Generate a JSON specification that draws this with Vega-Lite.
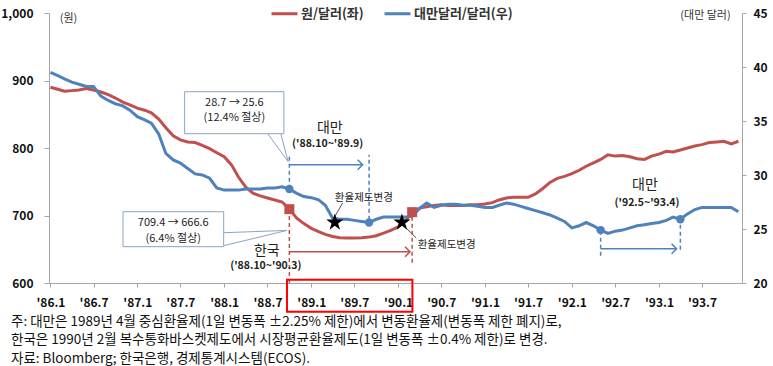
{
  "$schema": "https://vega.github.io/schema/vega-lite/v6.json",
  "width": 693,
  "height": 270,
  "autosize": {"type": "none"},
  "padding": {"left": 49, "top": 13, "right": 31, "bottom": 83},
  "background": "white",
  "config": {
    "view": {"stroke": null},
    "font": "Noto Sans CJK KR",
    "axis": {"grid": false, "labelFont": "Noto Sans CJK KR", "titleFont": "Noto Sans CJK KR"},
    "legend": {"labelFont": "Noto Sans CJK KR"}
  },
  "title": {
    "text": [
      "주: 대만은 1989년 4월 중심환율제(1일 변동폭 ±2.25% 제한)에서 변동환율제(변동폭 제한 폐지)로,",
      "　　한국은 1990년 2월 복수통화바스켓제도에서 시장평균환율제도(1일 변동폭 ±0.4% 제한)로 변경.",
      "자료: Bloomberg; 한국은행, 경제통계시스템(ECOS)."
    ],
    "orient": "bottom",
    "anchor": "start",
    "frame": "group",
    "dx": -38,
    "offset": 2,
    "fontSize": 13.5,
    "fontWeight": "normal",
    "color": "#111111",
    "font": "Noto Sans CJK KR",
    "lineHeight": 18.5,
    "baseline": "top"
  },
  "datasets": {
    "fx": [
      {"date": "1986-01-01", "won": 890, "twd": 39.5},
      {"date": "1986-02-01", "won": 887, "twd": 39.2},
      {"date": "1986-03-01", "won": 884, "twd": 38.9},
      {"date": "1986-04-01", "won": 885, "twd": 38.6},
      {"date": "1986-05-01", "won": 886, "twd": 38.4},
      {"date": "1986-06-01", "won": 888, "twd": 38.2},
      {"date": "1986-07-01", "won": 886, "twd": 38.2},
      {"date": "1986-08-01", "won": 883, "twd": 37.3},
      {"date": "1986-09-01", "won": 879, "twd": 36.9},
      {"date": "1986-10-01", "won": 874, "twd": 36.6},
      {"date": "1986-11-01", "won": 868, "twd": 36.4},
      {"date": "1986-12-01", "won": 864, "twd": 36.0},
      {"date": "1987-01-01", "won": 859, "twd": 35.4},
      {"date": "1987-02-01", "won": 856, "twd": 35.1},
      {"date": "1987-03-01", "won": 852, "twd": 34.8},
      {"date": "1987-04-01", "won": 843, "twd": 33.8},
      {"date": "1987-05-01", "won": 830, "twd": 32.0},
      {"date": "1987-06-01", "won": 818, "twd": 31.4},
      {"date": "1987-07-01", "won": 812, "twd": 31.1},
      {"date": "1987-08-01", "won": 809, "twd": 30.6},
      {"date": "1987-09-01", "won": 808, "twd": 30.1},
      {"date": "1987-10-01", "won": 804, "twd": 30.0},
      {"date": "1987-11-01", "won": 799, "twd": 29.7},
      {"date": "1987-12-01", "won": 793, "twd": 28.8},
      {"date": "1988-01-01", "won": 787, "twd": 28.6},
      {"date": "1988-02-01", "won": 775, "twd": 28.6},
      {"date": "1988-03-01", "won": 757, "twd": 28.6},
      {"date": "1988-04-01", "won": 742, "twd": 28.7},
      {"date": "1988-05-01", "won": 733, "twd": 28.7},
      {"date": "1988-06-01", "won": 729, "twd": 28.7},
      {"date": "1988-07-01", "won": 726, "twd": 28.8},
      {"date": "1988-08-01", "won": 723, "twd": 28.8},
      {"date": "1988-09-01", "won": 720, "twd": 28.9},
      {"date": "1988-10-01", "won": 709.4, "twd": 28.7},
      {"date": "1988-11-01", "won": 696, "twd": 28.3},
      {"date": "1988-12-01", "won": 688, "twd": 28.0},
      {"date": "1989-01-01", "won": 681, "twd": 27.9},
      {"date": "1989-02-01", "won": 676, "twd": 27.7},
      {"date": "1989-03-01", "won": 672, "twd": 27.2},
      {"date": "1989-04-01", "won": 669, "twd": 26.0},
      {"date": "1989-05-01", "won": 667, "twd": 25.9},
      {"date": "1989-06-01", "won": 666.6, "twd": 25.9},
      {"date": "1989-07-01", "won": 666.6, "twd": 25.8},
      {"date": "1989-08-01", "won": 667, "twd": 25.7},
      {"date": "1989-09-01", "won": 668, "twd": 25.6},
      {"date": "1989-10-01", "won": 670, "twd": 25.9},
      {"date": "1989-11-01", "won": 674, "twd": 26.1},
      {"date": "1989-12-01", "won": 678, "twd": 26.1},
      {"date": "1990-01-01", "won": 683, "twd": 26.1},
      {"date": "1990-02-01", "won": 692, "twd": 26.1},
      {"date": "1990-03-01", "won": 705, "twd": 26.2},
      {"date": "1990-04-01", "won": 711, "twd": 26.9},
      {"date": "1990-05-01", "won": 713, "twd": 27.4},
      {"date": "1990-06-01", "won": 715, "twd": 27.0},
      {"date": "1990-07-01", "won": 716, "twd": 27.2},
      {"date": "1990-08-01", "won": 715, "twd": 27.3},
      {"date": "1990-09-01", "won": 715, "twd": 27.3},
      {"date": "1990-10-01", "won": 715, "twd": 27.2},
      {"date": "1990-11-01", "won": 716, "twd": 27.2},
      {"date": "1990-12-01", "won": 716, "twd": 27.1},
      {"date": "1991-01-01", "won": 717, "twd": 27.0},
      {"date": "1991-02-01", "won": 719, "twd": 27.0},
      {"date": "1991-03-01", "won": 723, "twd": 27.2},
      {"date": "1991-04-01", "won": 726, "twd": 27.4},
      {"date": "1991-05-01", "won": 727, "twd": 27.3},
      {"date": "1991-06-01", "won": 727, "twd": 27.1},
      {"date": "1991-07-01", "won": 727, "twd": 26.9},
      {"date": "1991-08-01", "won": 732, "twd": 26.7},
      {"date": "1991-09-01", "won": 740, "twd": 26.5},
      {"date": "1991-10-01", "won": 749, "twd": 26.3},
      {"date": "1991-11-01", "won": 755, "twd": 26.0},
      {"date": "1991-12-01", "won": 758, "twd": 25.7},
      {"date": "1992-01-01", "won": 762, "twd": 25.1},
      {"date": "1992-02-01", "won": 767, "twd": 25.3},
      {"date": "1992-03-01", "won": 773, "twd": 25.6},
      {"date": "1992-04-01", "won": 778, "twd": 25.3},
      {"date": "1992-05-01", "won": 783, "twd": 24.9},
      {"date": "1992-06-01", "won": 790, "twd": 24.6},
      {"date": "1992-07-01", "won": 788, "twd": 24.8},
      {"date": "1992-08-01", "won": 789, "twd": 24.9},
      {"date": "1992-09-01", "won": 787, "twd": 25.1},
      {"date": "1992-10-01", "won": 784, "twd": 25.3},
      {"date": "1992-11-01", "won": 783, "twd": 25.4},
      {"date": "1992-12-01", "won": 788, "twd": 25.5},
      {"date": "1993-01-01", "won": 791, "twd": 25.6},
      {"date": "1993-02-01", "won": 795, "twd": 25.8},
      {"date": "1993-03-01", "won": 794, "twd": 26.1},
      {"date": "1993-04-01", "won": 797, "twd": 25.9},
      {"date": "1993-05-01", "won": 800, "twd": 26.4},
      {"date": "1993-06-01", "won": 803, "twd": 26.8},
      {"date": "1993-07-01", "won": 805, "twd": 27.0},
      {"date": "1993-08-01", "won": 808, "twd": 27.0},
      {"date": "1993-09-01", "won": 809, "twd": 27.0},
      {"date": "1993-10-01", "won": 810, "twd": 27.0},
      {"date": "1993-11-01", "won": 806, "twd": 27.0},
      {"date": "1993-12-01", "won": 810, "twd": 26.6}
    ],
    "blueDash": [
      {"date": "1988-10-01", "low": 739.7, "high": 790.1},
      {"date": "1989-09-01", "low": 693.8, "high": 790.1},
      {"date": "1992-05-01", "low": 640.4, "high": 679.0},
      {"date": "1993-04-01", "low": 649.2, "high": 690.7}
    ],
    "redDash": [
      {"date": "1988-10-01", "low": 600, "high": 709.4},
      {"date": "1990-03-01", "low": 630, "high": 705}
    ],
    "blueArrow": [
      {"start": "1988-10-01", "end": "1989-08-05", "level": 775.3},
      {"start": "1992-05-01", "end": "1993-03-16", "level": 650.8}
    ],
    "redArrow": [
      {"start": "1988-10-01", "end": "1990-02-20", "level": 646.2}
    ],
    "boxes": [
      {"start": "1987-07-19", "end": "1988-09-08", "low": 821.2, "high": 883.4},
      {"start": "1986-11-02", "end": "1987-12-30", "low": 653.8, "high": 705.6}
    ],
    "wedges": [
      {"start": "1988-07-02", "end": "1988-09-26", "from": 821.2, "to": 779.7},
      {"start": "1988-08-26", "end": "1988-09-26", "from": 821.2, "to": 779.7},
      {"start": "1987-12-30", "end": "1988-09-21", "from": 674.5, "to": 677.9},
      {"start": "1987-12-30", "end": "1988-09-21", "from": 655.3, "to": 677.9}
    ],
    "boxText": [
      {"date": "1988-02-13", "value": 866.4, "text": "28.7 → 25.6"},
      {"date": "1988-02-13", "value": 844.1, "text": "(12.4% 절상)"},
      {"date": "1987-06-01", "value": 688.6, "text": "709.4 → 666.6"},
      {"date": "1987-06-01", "value": 665.6, "text": "(6.4% 절상)"}
    ],
    "bigText": [
      {"date": "1988-06-28", "value": 647.5, "text": "한국"},
      {"date": "1989-03-20", "value": 829.5, "text": "대만"},
      {"date": "1992-11-03", "value": 745.5, "text": "대만"}
    ],
    "rangeText": [
      {"date": "1988-06-24", "value": 624.5, "text": "('88.10~'90.3)"},
      {"date": "1989-03-11", "value": 806.0, "text": "('88.10~'89.9)"},
      {"date": "1992-11-12", "value": 719.0, "text": "('92.5~'93.4)"}
    ],
    "changeText": [
      {"date": "1989-08-10", "value": 726.4, "text": "환율제도변경"},
      {"date": "1990-07-24", "value": 656.7, "text": "환율제도변경"}
    ],
    "leaders": [
      {"start": "1989-05-13", "end": "1989-04-10", "from": 718.5, "to": 698.7},
      {"start": "1990-01-13", "end": "1990-03-18", "from": 688.9, "to": 666.7}
    ],
    "circles": [
      {"date": "1988-10-01", "twd": 28.7},
      {"date": "1989-09-01", "twd": 25.6},
      {"date": "1992-05-01", "twd": 24.9},
      {"date": "1993-04-01", "twd": 25.9}
    ],
    "squares": [
      {"date": "1988-10-01", "won": 709.4},
      {"date": "1990-03-01", "won": 705}
    ],
    "stars": [
      {"date": "1989-04-10", "value": 689.8},
      {"date": "1990-01-17", "value": 689.8}
    ],
    "highlight": [
      {"start": "1988-09-21", "end": "1990-03-02", "low": 557.5, "high": 604.9}
    ]
  },
  "layer": [
    {
      "data": {"name": "fx"},
      "mark": {"type": "line", "color": "#C0504D", "strokeWidth": 3},
      "encoding": {
        "x": {
          "field": "date", "type": "temporal",
          "scale": {"type": "utc", "domain": [{"year": 1985, "month": 12, "date": 26, "utc": true}, {"year": 1993, "month": 12, "date": 16, "utc": true}]},
          "axis": {
            "title": null,
            "values": [
              {"year": 1986, "month": 1, "date": 1, "utc": true}, {"year": 1986, "month": 7, "date": 1, "utc": true},
              {"year": 1987, "month": 1, "date": 1, "utc": true}, {"year": 1987, "month": 7, "date": 1, "utc": true},
              {"year": 1988, "month": 1, "date": 1, "utc": true}, {"year": 1988, "month": 7, "date": 1, "utc": true},
              {"year": 1989, "month": 1, "date": 1, "utc": true}, {"year": 1989, "month": 7, "date": 1, "utc": true},
              {"year": 1990, "month": 1, "date": 1, "utc": true}, {"year": 1990, "month": 7, "date": 1, "utc": true},
              {"year": 1991, "month": 1, "date": 1, "utc": true}, {"year": 1991, "month": 7, "date": 1, "utc": true},
              {"year": 1992, "month": 1, "date": 1, "utc": true}, {"year": 1992, "month": 7, "date": 1, "utc": true},
              {"year": 1993, "month": 1, "date": 1, "utc": true}, {"year": 1993, "month": 7, "date": 1, "utc": true}
            ],
            "labelExpr": "\"'\" + utcFormat(datum.value, '%y') + '.' + (utcmonth(datum.value) + 1)",
            "labelFlush": false,
            "labelOverlap": false,
            "labelFontSize": 12,
            "labelFontWeight": "bold",
            "labelColor": "#111111",
            "labelPadding": 10,
            "tickSize": 4,
            "tickColor": "#A6A6A6",
            "domainColor": "#A6A6A6"
          }
        },
        "y": {
          "field": "won", "type": "quantitative",
          "scale": {"domain": [600, 1000], "zero": false, "nice": false},
          "axis": {
            "values": [600, 700, 800, 900, 1000],
            "format": ",d",
            "title": "(원)",
            "titleAngle": 0,
            "titleX": 19,
            "titleY": 5,
            "titleAlign": "center",
            "titleBaseline": "middle",
            "titleFontSize": 11,
            "titleFontWeight": "normal",
            "titleColor": "#333333",
            "labelFontSize": 12,
            "labelFontWeight": "bold",
            "labelColor": "#111111",
            "labelPadding": 11,
            "tickSize": 5,
            "tickColor": "#A6A6A6",
            "domainColor": "#A6A6A6"
          }
        },
        "color": {
          "datum": "원/달러(좌)",
          "scale": {"domain": ["원/달러(좌)", "대만달러/달러(우)"], "range": ["#C0504D", "#4F81BD"]},
          "legend": {
            "title": null,
            "orient": "none",
            "legendX": 221,
            "legendY": -14,
            "direction": "horizontal",
            "symbolType": "stroke",
            "symbolSize": 676,
            "symbolStrokeWidth": 3,
            "labelFontSize": 13,
            "labelFontWeight": "bold",
            "labelColor": "#333333",
            "labelOffset": 2,
            "columnPadding": 14
          }
        }
      }
    },
    {
      "data": {"name": "fx"},
      "mark": {"type": "line", "color": "#4F81BD", "strokeWidth": 3},
      "encoding": {
        "x": {"field": "date", "type": "temporal", "scale": {"type": "utc", "domain": [{"year": 1985, "month": 12, "date": 26, "utc": true}, {"year": 1993, "month": 12, "date": 16, "utc": true}]}, "axis": null},
        "y": {
          "field": "twd", "type": "quantitative",
          "scale": {"domain": [20, 45], "zero": false, "nice": false},
          "axis": {
            "orient": "right",
            "values": [20, 25, 30, 35, 40, 45],
            "title": "(대만 달러)",
            "titleAngle": 0,
            "titleX": -37,
            "titleY": 2,
            "titleAlign": "center",
            "titleBaseline": "middle",
            "titleFontSize": 11,
            "titleFontWeight": "normal",
            "titleColor": "#333333",
            "labelFontSize": 12,
            "labelFontWeight": "bold",
            "labelColor": "#111111",
            "labelPadding": 7,
            "tickSize": 4,
            "tickColor": "#A6A6A6",
            "domainColor": "#A6A6A6"
          }
        },
        "color": {"datum": "대만달러/달러(우)"}
      }
    },
    {
      "data": {"name": "blueDash"},
      "mark": {"type": "rule", "color": "#4F81BD", "strokeWidth": 1.5, "strokeDash": [4, 3]},
      "encoding": {
        "x": {"field": "date", "type": "temporal", "axis": null},
        "y": {"field": "low", "type": "quantitative", "scale": {"domain": [600, 1000], "zero": false, "nice": false}, "axis": null},
        "y2": {"field": "high"}
      }
    },
    {
      "data": {"name": "redDash"},
      "mark": {"type": "rule", "color": "#C0504D", "strokeWidth": 1.5, "strokeDash": [4, 3]},
      "encoding": {
        "x": {"field": "date", "type": "temporal", "axis": null},
        "y": {"field": "low", "type": "quantitative", "scale": {"domain": [600, 1000], "zero": false, "nice": false}, "axis": null},
        "y2": {"field": "high"}
      }
    },
    {
      "data": {"name": "blueArrow"},
      "mark": {"type": "rule", "color": "#4F81BD", "strokeWidth": 1.5},
      "encoding": {
        "x": {"field": "start", "type": "temporal", "axis": null},
        "x2": {"field": "end"},
        "y": {"field": "level", "type": "quantitative", "scale": {"domain": [600, 1000], "zero": false, "nice": false}, "axis": null}
      }
    },
    {
      "data": {"name": "blueArrow"},
      "mark": {"type": "point", "shape": "M-1,-1L0,0L-1,1", "filled": false, "color": "#4F81BD", "strokeWidth": 1.5, "size": 100, "opacity": 1},
      "encoding": {
        "x": {"field": "end", "type": "temporal", "axis": null},
        "y": {"field": "level", "type": "quantitative", "scale": {"domain": [600, 1000], "zero": false, "nice": false}, "axis": null}
      }
    },
    {
      "data": {"name": "redArrow"},
      "mark": {"type": "rule", "color": "#C0504D", "strokeWidth": 1.5},
      "encoding": {
        "x": {"field": "start", "type": "temporal", "axis": null},
        "x2": {"field": "end"},
        "y": {"field": "level", "type": "quantitative", "scale": {"domain": [600, 1000], "zero": false, "nice": false}, "axis": null}
      }
    },
    {
      "data": {"name": "redArrow"},
      "mark": {"type": "point", "shape": "M-1,-1L0,0L-1,1", "filled": false, "color": "#C0504D", "strokeWidth": 1.5, "size": 100, "opacity": 1},
      "encoding": {
        "x": {"field": "end", "type": "temporal", "axis": null},
        "y": {"field": "level", "type": "quantitative", "scale": {"domain": [600, 1000], "zero": false, "nice": false}, "axis": null}
      }
    },
    {
      "data": {"name": "wedges"},
      "mark": {"type": "rule", "color": "#8EA4BF", "strokeWidth": 1},
      "encoding": {
        "x": {"field": "start", "type": "temporal", "axis": null},
        "x2": {"field": "end"},
        "y": {"field": "from", "type": "quantitative", "scale": {"domain": [600, 1000], "zero": false, "nice": false}, "axis": null},
        "y2": {"field": "to"}
      }
    },
    {
      "data": {"name": "boxes"},
      "mark": {"type": "rect", "fill": "white", "stroke": "#8EA4BF", "strokeWidth": 1},
      "encoding": {
        "x": {"field": "start", "type": "temporal", "axis": null},
        "x2": {"field": "end"},
        "y": {"field": "low", "type": "quantitative", "scale": {"domain": [600, 1000], "zero": false, "nice": false}, "axis": null},
        "y2": {"field": "high"}
      }
    },
    {
      "data": {"name": "boxText"},
      "mark": {"type": "text", "fontSize": 11, "color": "#222222", "align": "center", "baseline": "middle"},
      "encoding": {
        "x": {"field": "date", "type": "temporal", "axis": null},
        "y": {"field": "value", "type": "quantitative", "scale": {"domain": [600, 1000], "zero": false, "nice": false}, "axis": null},
        "text": {"field": "text"}
      }
    },
    {
      "data": {"name": "bigText"},
      "mark": {"type": "text", "fontSize": 14, "color": "#222222", "align": "center", "baseline": "middle"},
      "encoding": {
        "x": {"field": "date", "type": "temporal", "axis": null},
        "y": {"field": "value", "type": "quantitative", "scale": {"domain": [600, 1000], "zero": false, "nice": false}, "axis": null},
        "text": {"field": "text"}
      }
    },
    {
      "data": {"name": "rangeText"},
      "mark": {"type": "text", "fontSize": 10.5, "fontWeight": "bold", "color": "#222222", "align": "center", "baseline": "middle"},
      "encoding": {
        "x": {"field": "date", "type": "temporal", "axis": null},
        "y": {"field": "value", "type": "quantitative", "scale": {"domain": [600, 1000], "zero": false, "nice": false}, "axis": null},
        "text": {"field": "text"}
      }
    },
    {
      "data": {"name": "changeText"},
      "mark": {"type": "text", "fontSize": 10.5, "color": "#222222", "align": "center", "baseline": "middle"},
      "encoding": {
        "x": {"field": "date", "type": "temporal", "axis": null},
        "y": {"field": "value", "type": "quantitative", "scale": {"domain": [600, 1000], "zero": false, "nice": false}, "axis": null},
        "text": {"field": "text"}
      }
    },
    {
      "data": {"name": "leaders"},
      "mark": {"type": "rule", "color": "#555555", "strokeWidth": 1},
      "encoding": {
        "x": {"field": "start", "type": "temporal", "axis": null},
        "x2": {"field": "end"},
        "y": {"field": "from", "type": "quantitative", "scale": {"domain": [600, 1000], "zero": false, "nice": false}, "axis": null},
        "y2": {"field": "to"}
      }
    },
    {
      "data": {"name": "circles"},
      "mark": {"type": "point", "shape": "circle", "filled": true, "color": "#4F81BD", "size": 70, "opacity": 1},
      "encoding": {
        "x": {"field": "date", "type": "temporal", "axis": null},
        "y": {"field": "twd", "type": "quantitative", "scale": {"domain": [20, 45], "zero": false, "nice": false}, "axis": null}
      }
    },
    {
      "data": {"name": "squares"},
      "mark": {"type": "point", "shape": "square", "filled": true, "color": "#C0504D", "size": 100, "opacity": 1},
      "encoding": {
        "x": {"field": "date", "type": "temporal", "axis": null},
        "y": {"field": "won", "type": "quantitative", "scale": {"domain": [600, 1000], "zero": false, "nice": false}, "axis": null}
      }
    },
    {
      "data": {"name": "stars"},
      "mark": {"type": "point", "shape": "M0,-1L0.2245,-0.309L0.9511,-0.309L0.3633,0.118L0.5878,0.809L0,0.382L-0.5878,0.809L-0.3633,0.118L-0.9511,-0.309L-0.2245,-0.309Z", "filled": true, "color": "#000000", "size": 324, "opacity": 1},
      "encoding": {
        "x": {"field": "date", "type": "temporal", "axis": null},
        "y": {"field": "value", "type": "quantitative", "scale": {"domain": [600, 1000], "zero": false, "nice": false}, "axis": null}
      }
    },
    {
      "data": {"name": "highlight"},
      "mark": {"type": "rect", "fill": null, "fillOpacity": 0, "stroke": "#FF0000", "strokeWidth": 2},
      "encoding": {
        "x": {"field": "start", "type": "temporal", "axis": null},
        "x2": {"field": "end"},
        "y": {"field": "low", "type": "quantitative", "scale": {"domain": [600, 1000], "zero": false, "nice": false}, "axis": null},
        "y2": {"field": "high"}
      }
    }
  ],
  "resolve": {"scale": {"y": "independent"}, "axis": {"x": "independent", "y": "independent"}}
}
